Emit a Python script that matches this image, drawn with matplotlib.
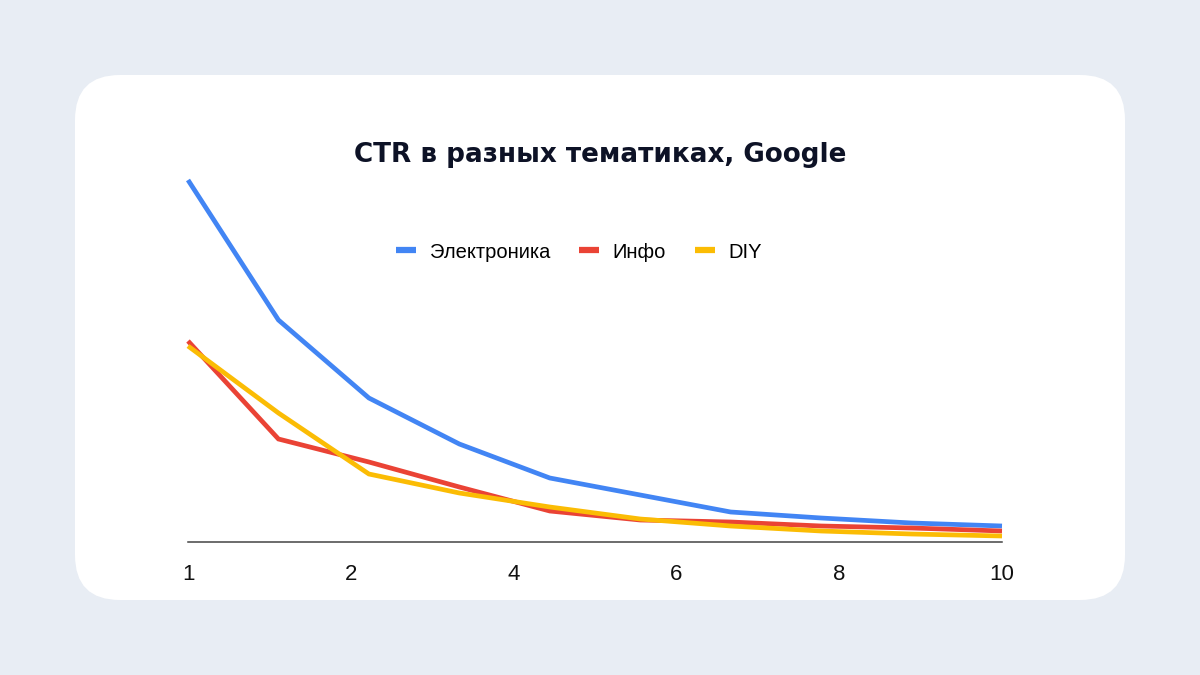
import matplotlib
matplotlib.use("Agg")
import matplotlib.pyplot as plt
from matplotlib.patches import FancyBboxPatch
from matplotlib.lines import Line2D

positions = [1, 2, 3, 4, 5, 6, 7, 8, 9, 10]
electronics = [36.2, 22.2, 14.4, 9.8, 6.4, 4.7, 3.0, 2.4, 1.9, 1.6]
info = [20.1, 10.3, 8.0, 5.5, 3.1, 2.2, 2.0, 1.6, 1.4, 1.1]
diy = [19.6, 12.9, 6.8, 4.9, 3.5, 2.3, 1.6, 1.1, 0.8, 0.6]
series_names = ["Электроника", "Инфо", "DIY"]
colors = ["#4285F4", "#EA4335", "#FBBC04"]
tick_pos = [1, 2.8, 4.6, 6.4, 8.2, 10]
tick_labels = ["1", "2", "4", "6", "8", "10"]
title = "CTR в разных тематиках, Google"

W, H = 1200, 675
fig = plt.figure(figsize=(12, 6.75), dpi=100)
fig.patch.set_facecolor("#E8EDF4")

card = FancyBboxPatch((0.75, 0.75), 10.5, 5.25,
                      boxstyle="round,pad=0,rounding_size=0.45",
                      transform=fig.dpi_scale_trans, facecolor="white",
                      edgecolor="none", zorder=-10)
fig.patches.append(card)

left, right = 188 / W, 1002 / W
bottom = (H - 542) / H
top = (H - 142) / H
ax = fig.add_axes([left, bottom, right - left, top - bottom])
ax.set_facecolor("none")
ax.set_zorder(5)
ax.set_xlim(1, 10)
ax.set_ylim(0, 40)

for vals, c in zip([electronics, info, diy], colors):
    ax.plot(positions, vals, color=c, lw=3.4, solid_joinstyle="miter",
            solid_capstyle="butt", clip_on=False)

for s in ["top", "right", "left"]:
    ax.spines[s].set_visible(False)
ax.spines["bottom"].set_color("#444444")
ax.spines["bottom"].set_linewidth(1.1)
ax.set_yticks([])
ax.set_xticks(tick_pos)
ax.set_xticklabels(tick_labels, fontsize=16, family="Liberation Sans", color="#111111")
ax.tick_params(axis="x", length=0, pad=16)

fig.text(600 / W, 1 - 155 / H, title, ha="center", va="center",
         fontsize=18.9, fontweight="bold", family="DejaVu Sans", color="#0D1226")

handles = [Line2D([0], [0], color=c, lw=4.5, solid_capstyle="butt") for c in colors]
fig.legend(handles, series_names, loc="center", bbox_to_anchor=(579 / W, 1 - 252 / H),
           ncol=3, frameon=False, prop={"family": "Liberation Sans", "size": 14.5},
           handlelength=1.0, handletextpad=0.65, columnspacing=1.45)

fig.savefig("out.png", dpi=100, facecolor=fig.get_facecolor())
